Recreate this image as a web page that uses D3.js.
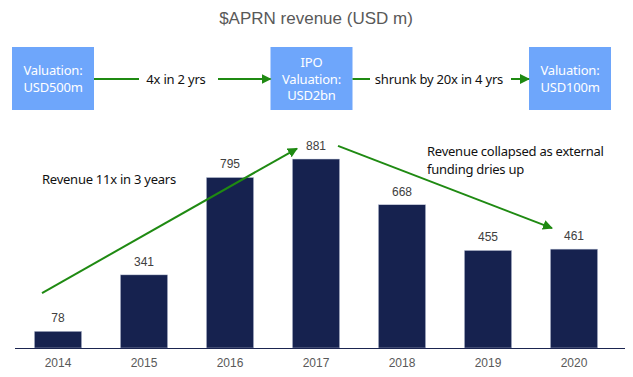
<!DOCTYPE html>
<html>
<head>
<meta charset="utf-8">
<script src="https://cdn.jsdelivr.net/npm/d3@7"></script>
<style>
  body { margin: 0; background: #fff; }
  svg { display: block; }
</style>
</head>
<body>
<div id="chart"></div>
<script>
// chart data
const years = ["2014", "2015", "2016", "2017", "2018", "2019", "2020"];
const revenue = [78, 341, 795, 881, 668, 455, 461];

// valuation flow across the top
const boxLabels = [["Valuation:", "USD500m"], ["IPO", "Valuation:", "USD2bn"], ["Valuation:", "USD100m"]];
const stepLabels = ["4x in 2 yrs", "shrunk by 20x in 4 yrs"];

const TITLE = "$APRN revenue (USD m)";
const NOTE_UP = ["Revenue 11x in 3 years"];
const NOTE_DOWN = ["Revenue collapsed as external", "funding dries up"];

const WIDTH = 633;
const HEIGHT = 377;
const BASE = 348;
const BAR_COLOR = "#16224f";
const GREEN = "#1f8a12";
const BOX_COLOR = "#6ea6fb";
const NOTE_FONT = "Noto Sans, sans-serif";

let svg = d3.select("#chart")
            .append("svg")
            .attr("width", WIDTH)
            .attr("height", HEIGHT);

let defs = svg.append("defs");
defs.append("marker")
    .attr("id", "head")
    .attr("viewBox", "0 0 10 10")
    .attr("refX", 9)
    .attr("refY", 5)
    .attr("markerWidth", 5)
    .attr("markerHeight", 5)
    .attr("orient", "auto")
    .append("path")
    .attr("d", "M0,0 L10,5 L0,10 z")
    .attr("fill", GREEN);

// title
svg.append("text")
   .attr("x", 316)
   .attr("y", 24)
   .attr("text-anchor", "middle")
   .attr("font-family", "Liberation Sans, Arial, sans-serif")
   .attr("font-size", 17)
   .attr("fill", "#595959")
   .text(TITLE);

// flow boxes
const boxX = d3.scalePoint().domain(d3.range(boxLabels.length)).range([53, 570]);
const BOX_W = 82, BOX_H = 63, BOX_Y = 47;

let boxes = svg.selectAll("g.box")
               .data(boxLabels)
               .enter()
               .append("g")
               .attr("class", "box")
               .attr("transform", (d, i) => "translate(" + boxX(i) + "," + BOX_Y + ")");

boxes.append("rect")
     .attr("x", -BOX_W / 2)
     .attr("width", BOX_W)
     .attr("height", BOX_H)
     .attr("fill", BOX_COLOR);

boxes.each(function(d) {
    let g = d3.select(this);
    let lh = 16.5;
    let top = BOX_H / 2 - (d.length - 1) * lh / 2 + 5;
    g.selectAll("text")
     .data(d)
     .enter()
     .append("text")
     .attr("x", 0)
     .attr("y", (t, j) => top + j * lh)
     .attr("text-anchor", "middle")
     .attr("font-family", NOTE_FONT)
     .attr("font-size", 13)
     .attr("letter-spacing", -0.2)
     .attr("fill", "#fff")
     .text(t => t);
});

// connectors between boxes
const FLOW_Y = 79;
const gaps = [[139, 218, 176], [370, 511, 439]];
stepLabels.forEach((lab, i) => {
    let x0 = boxX(i) + BOX_W / 2;
    let x1 = boxX(i + 1) - BOX_W / 2;
    svg.append("line")
       .attr("x1", x0).attr("y1", FLOW_Y)
       .attr("x2", gaps[i][0]).attr("y2", FLOW_Y)
       .attr("stroke", GREEN).attr("stroke-width", 2);
    svg.append("line")
       .attr("x1", gaps[i][1]).attr("y1", FLOW_Y)
       .attr("x2", x1).attr("y2", FLOW_Y)
       .attr("stroke", GREEN).attr("stroke-width", 2)
       .attr("marker-end", "url(#head)");
    svg.append("text")
       .attr("x", gaps[i][2])
       .attr("y", FLOW_Y + 5)
       .attr("text-anchor", "middle")
       .attr("font-family", NOTE_FONT)
       .attr("font-size", 13)
       .attr("letter-spacing", -0.2)
       .attr("fill", "#111")
       .text(lab);
});

// bar chart
let xScale = d3.scaleBand()
               .domain(years)
               .range([15, 617])
               .paddingInner(0.45)
               .paddingOuter(0.225);
let yScale = d3.scaleLinear()
               .domain([0, 1000])
               .range([BASE, BASE - 214.5]);

svg.selectAll("rect.bar")
   .data(revenue)
   .enter()
   .append("rect")
   .attr("class", "bar")
   .attr("x", (d, i) => xScale(years[i]))
   .attr("y", d => yScale(d))
   .attr("width", xScale.bandwidth())
   .attr("height", d => BASE - yScale(d))
   .attr("fill", BAR_COLOR)
   .attr("stroke", "#c9cfe0")
   .attr("stroke-width", 0.5);

svg.selectAll("text.val")
   .data(revenue)
   .enter()
   .append("text")
   .attr("class", "val")
   .attr("x", (d, i) => xScale(years[i]) + xScale.bandwidth() / 2)
   .attr("y", d => yScale(d) - 9)
   .attr("text-anchor", "middle")
   .attr("font-family", "Liberation Sans, Arial, sans-serif")
   .attr("font-size", 12)
   .attr("fill", "#404040")
   .text(d => d);

let xAxis = d3.axisBottom(xScale).tickSize(0).tickPadding(10);
let axisG = svg.append("g")
               .attr("transform", "translate(0," + BASE + ")")
               .call(xAxis);
axisG.select(".domain").remove();
axisG.selectAll("text")
     .attr("font-family", "Liberation Sans, Arial, sans-serif")
     .attr("font-size", 12)
     .attr("fill", "#595959");
svg.append("line")
   .attr("x1", 15).attr("x2", 625)
   .attr("y1", BASE + 0.5).attr("y2", BASE + 0.5)
   .attr("stroke", "#1b2550").attr("stroke-width", 1.2);

// trend arrows, anchored to the bars
const cx = y => xScale(y) + xScale.bandwidth() / 2;
svg.append("line")
   .attr("x1", cx("2014") - 16).attr("y1", yScale(256))
   .attr("x2", cx("2017") - 19).attr("y2", yScale(930))
   .attr("stroke", GREEN).attr("stroke-width", 2)
   .attr("marker-end", "url(#head)");
svg.append("line")
   .attr("x1", cx("2017") + 22).attr("y1", yScale(942))
   .attr("x2", cx("2020") - 22).attr("y2", yScale(559))
   .attr("stroke", GREEN).attr("stroke-width", 2)
   .attr("marker-end", "url(#head)");

// annotations
function note(lines, x, y) {
    svg.append("g")
       .selectAll("text")
       .data(lines)
       .enter()
       .append("text")
       .attr("x", x)
       .attr("y", (d, i) => y + i * 18)
       .attr("font-family", NOTE_FONT)
       .attr("font-size", 13)
       .attr("letter-spacing", -0.25)
       .attr("fill", "#111")
       .text(d => d);
}
note(NOTE_UP, 42, 184);
note(NOTE_DOWN, 427, 156);
</script>
</body>
</html>
